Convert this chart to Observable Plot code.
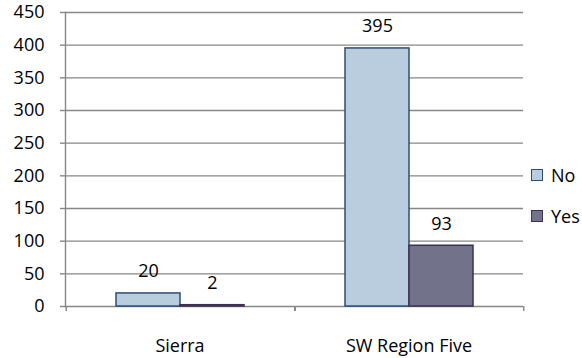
<!DOCTYPE html>
<html>
<head>
<meta charset="utf-8">
<script src="https://cdn.jsdelivr.net/npm/d3@7"></script>
<script src="https://cdn.jsdelivr.net/npm/@observablehq/plot@0.6"></script>
<style>
  body { margin: 0; background: #fff; }
  #wrap { position: relative; width: 582px; height: 358px; font-family: "Open Sans", sans-serif; }
  #legend { position: absolute; left: 531px; top: 163px; font-size: 18px; color: #000; }
  .item { display: flex; align-items: center; height: 24px; margin-bottom: 17px; }
  .sw { width: 10px; height: 10px; margin-right: 8px; border: 1.5px solid; }
</style>
</head>
<body>
<div id="wrap"><div id="legend"></div></div>
<script>
const groups = ["Sierra", "SW Region Five"];
const series = ["No", "Yes"];
const noValues = [20, 395];
const yesValues = [2, 93];
const yTicks = [0, 50, 100, 150, 200, 250, 300, 350, 400, 450];
const fills = ["#B9CDDF", "#72728A"];
const strokes = ["#2C4D75", "#3F3151"];
const gridColor = "#878787";

const data = groups.flatMap((g, i) => [
  {group: g, series: series[0], value: noValues[i]},
  {group: g, series: series[1], value: yesValues[i]}
]);

const W = 582, H = 358, mL = 64, mR = 59, mT = 12, mB = 52;
const po = 0.765;
const facetW = (W - mL - mR) / groups.length;
const step = facetW / (series.length + 2 * po);
const edgeOffset = po * step + step / 2;

const chart = Plot.plot({
  width: W, height: H,
  marginLeft: mL, marginRight: mR, marginTop: mT, marginBottom: mB,
  style: {fontFamily: "Open Sans", fontSize: "18px", color: "#000", background: "transparent", overflow: "visible"},
  fx: {domain: groups, padding: 0, label: null},
  x: {domain: series, paddingInner: 0, paddingOuter: po, axis: null},
  y: {domain: [0, 450], ticks: yTicks, label: null},
  marks: [
    Plot.ruleY(yTicks, {stroke: gridColor, strokeWidth: 1.4}),
    Plot.frame({anchor: "left", facetAnchor: "left", stroke: gridColor, strokeWidth: 1.4}),
    Plot.axisY({ticks: yTicks, tickSize: 5, tickPadding: 16, stroke: gridColor, strokeWidth: 1.4, tickFormat: d => String(d), fontSize: 18}),
    Plot.axisFx({anchor: "bottom", tickSize: 0, tickPadding: 33, label: null, fontSize: 18}),
    Plot.ruleX(data.filter(d => d.series === series[0]), {fx: "group", x: "series", y1: 0, y2: 0, insetTop: 0, insetBottom: -5, dx: -edgeOffset, stroke: gridColor, strokeWidth: 1.4}),
    Plot.ruleX(data.filter(d => d.series === series[1]), {fx: "group", x: "series", y1: 0, y2: 0, insetTop: 0, insetBottom: -5, dx: edgeOffset, stroke: gridColor, strokeWidth: 1.4}),
    ...series.map((s, k) => Plot.barY(data.filter(d => d.series === s), {
      fx: "group", x: "series", y: "value", fill: fills[k], stroke: strokes[k], strokeWidth: 1.5
    })),
    Plot.text(data, {fx: "group", x: "series", y: "value", text: d => String(d.value), dy: -16, lineAnchor: "bottom", fontSize: 18, fill: "#000"})
  ]
});

document.getElementById("wrap").prepend(chart);

const legend = document.getElementById("legend");
series.forEach((s, k) => {
  const item = document.createElement("div");
  item.className = "item";
  const sw = document.createElement("span");
  sw.className = "sw";
  sw.style.background = fills[k];
  sw.style.borderColor = strokes[k];
  const t = document.createElement("span");
  t.textContent = s;
  item.append(sw, t);
  legend.append(item);
});
</script>
</body>
</html>
